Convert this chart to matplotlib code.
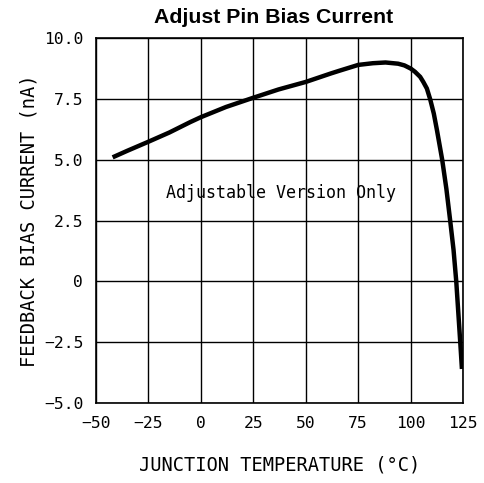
import numpy as np
import matplotlib.pyplot as plt

# data
temp = [-42, -35, -25, -15, -5, 0, 12, 25, 37, 50, 62, 66, 75, 82, 88, 94, 97,
        100, 102, 104.5, 106, 107.7, 109.3, 111, 112.5, 115, 117, 118.8, 120.4,
        121.7, 123.6, 124.4]
bias = [5.1, 5.37, 5.74, 6.12, 6.55, 6.75, 7.17, 7.55, 7.89, 8.2, 8.55, 8.66, 8.9, 8.97, 9.0, 8.95, 8.88,
        8.75, 8.62, 8.41, 8.2, 7.93, 7.48, 6.9, 6.22, 5.0, 3.8, 2.5, 1.3,
        0.0, -2.5, -3.6]

x_ticks = [-50, -25, 0, 25, 50, 75, 100, 125]
y_ticks = [-5.0, -2.5, 0, 2.5, 5.0, 7.5, 10.0]
y_labels = ["\u22125.0", "\u22122.5", "0", "2.5", "5.0", "7.5", "10.0"]
x_labels = ["\u221250", "\u221225", "0", "25", "50", "75", "100", "125"]

mono = ['DejaVu Sans Mono', 'DejaVu Sans']

fig = plt.figure(figsize=(4.84, 4.83), dpi=100)
ax = fig.add_axes([0.198, 0.1656, 0.759, 0.7554])

ax.plot(temp, bias, color="black", lw=3.2, solid_capstyle="butt", solid_joinstyle="round")

ax.set_xlim(-50, 125)
ax.set_ylim(-5, 10)
ax.set_xticks(x_ticks)
ax.set_xticklabels(x_labels, family=mono)
ax.set_yticks(y_ticks)
ax.set_yticklabels(y_labels, family=mono)
ax.tick_params(length=0, labelsize=11.8, pad=9, colors="black")
ax.grid(True, color="black", lw=1.0)
for s in ax.spines.values():
    s.set_linewidth(1.2)

ax.text(38, 3.65, "Adjustable Version Only", ha="center", va="center",
        fontsize=12, family=mono)

ax.set_xlabel("JUNCTION TEMPERATURE (\u00b0C)", fontsize=13.5, labelpad=18, family=mono)
ax.set_ylabel("FEEDBACK BIAS CURRENT (nA)", fontsize=13.5, labelpad=4, family=mono)

# title sits a little left of the axes centre in the original
fig.text(0.565, 0.963, "Adjust Pin Bias Current", ha="center", va="center",
         fontsize=15.3, fontweight="bold", family=['Liberation Sans', 'DejaVu Sans'])

fig.savefig("out.png", dpi=100)
